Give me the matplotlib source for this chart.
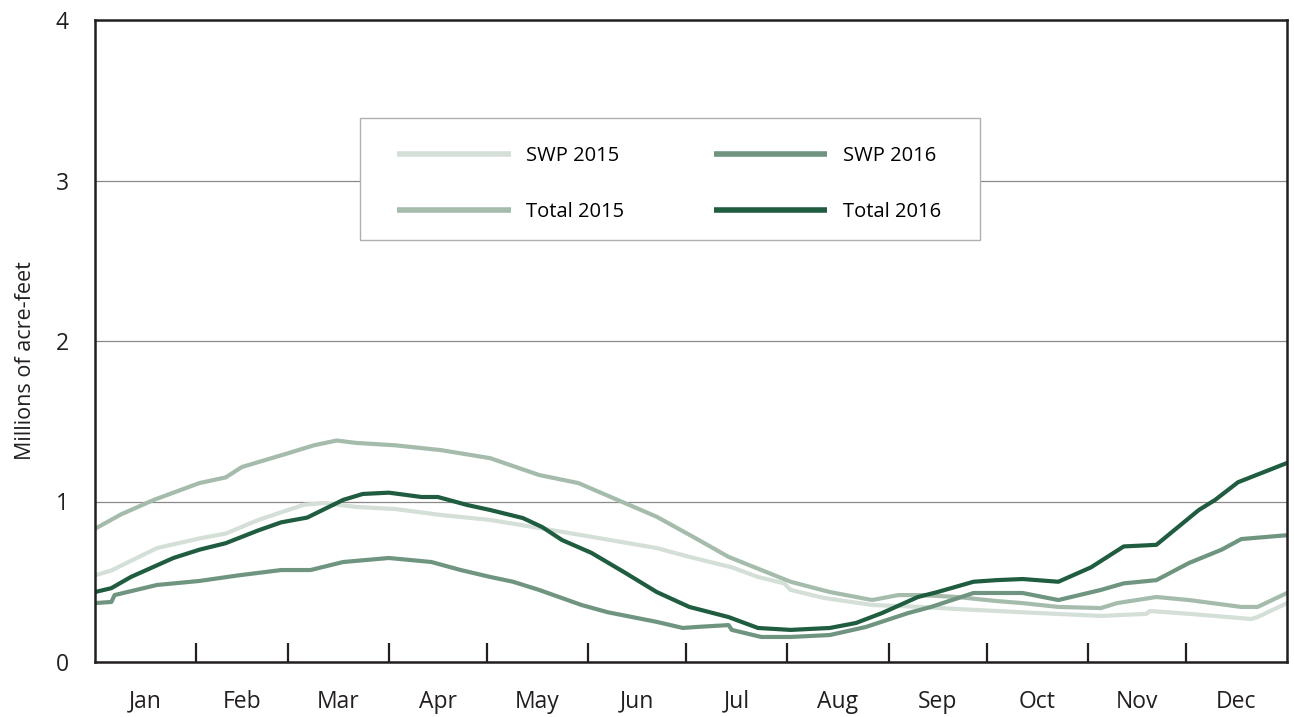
import numpy as np
import matplotlib.pyplot as plt
from matplotlib.patches import Rectangle

# day of year / millions of acre-feet
swp15_day = [0, 5, 19, 32, 40, 50, 64, 70, 80, 92, 106, 121, 136, 152, 172, 182, 195, 203, 211, 213,
             223, 238, 253, 264, 276, 289, 308, 322, 323, 335, 354, 356, 365]
swp15_val = [0.54, 0.57, 0.71, 0.77, 0.80, 0.885, 0.98, 0.99, 0.966, 0.953, 0.916, 0.885, 0.835, 0.78,
             0.71, 0.655, 0.59, 0.53, 0.49, 0.449, 0.40, 0.355, 0.343, 0.33, 0.318, 0.305, 0.287, 0.30,
             0.318, 0.30, 0.268, 0.28, 0.367]

tot15_day = [0, 8, 18, 32, 40, 45, 59, 67, 74, 80, 92, 106, 121, 136, 148, 160, 172, 184, 194, 213, 225,
             238, 246, 253, 264, 276, 284, 295, 308, 313, 325, 335, 351, 356, 365]
tot15_val = [0.83, 0.92, 1.01, 1.115, 1.15, 1.215, 1.30, 1.35, 1.38, 1.365, 1.35, 1.32, 1.27, 1.165,
             1.115, 1.01, 0.905, 0.77, 0.655, 0.50, 0.436, 0.386, 0.417, 0.417, 0.405, 0.38, 0.367,
             0.343, 0.336, 0.367, 0.405, 0.386, 0.343, 0.343, 0.43]

swp16_day = [0, 5, 6, 19, 32, 44, 57, 66, 76, 90, 103, 112, 121, 128, 136, 149, 157, 172, 180, 184,
             194, 195, 204, 213, 225, 236, 249, 256, 269, 276, 284, 295, 308, 315, 325, 335, 345, 351, 365]
swp16_val = [0.367, 0.374, 0.417, 0.48, 0.505, 0.54, 0.573, 0.573, 0.623, 0.648, 0.623, 0.573, 0.53,
             0.50, 0.449, 0.355, 0.31, 0.25, 0.212, 0.218, 0.23, 0.20, 0.156, 0.156, 0.168, 0.218,
             0.305, 0.343, 0.43, 0.43, 0.43, 0.386, 0.449, 0.49, 0.51, 0.617, 0.70, 0.766, 0.79]

tot16_day = [0, 5, 11, 24, 32, 40, 50, 57, 65, 76, 82, 90, 100, 105, 114, 121, 131, 137, 143, 152,
             162, 172, 182, 194, 203, 213, 225, 233, 241, 252, 258, 269, 276, 284, 295, 305, 315, 325,
             338, 343, 350, 365]
tot16_val = [0.436, 0.46, 0.53, 0.648, 0.70, 0.74, 0.82, 0.87, 0.90, 1.01, 1.047, 1.055, 1.028, 1.028,
             0.978, 0.947, 0.897, 0.84, 0.76, 0.68, 0.56, 0.436, 0.343, 0.28, 0.212, 0.20, 0.212,
             0.243, 0.305, 0.405, 0.436, 0.50, 0.51, 0.517, 0.50, 0.59, 0.72, 0.73, 0.947, 1.01,
             1.12, 1.24]

months = ['Jan', 'Feb', 'Mar', 'Apr', 'May', 'Jun', 'Jul', 'Aug', 'Sep', 'Oct', 'Nov', 'Dec']
month_len = [31, 28, 31, 30, 31, 30, 31, 31, 30, 31, 30, 31]

plt.rcParams['font.family'] = ['Open Sans', 'DejaVu Sans']
ink = '#231f20'

fig = plt.figure(figsize=(12.94, 7.17), dpi=100)
ax = fig.add_axes([95 / 1294, 55 / 717, 1192 / 1294, 642 / 717])

ax.plot(swp15_day, swp15_val, color='#d4dfd8', lw=3, label='SWP 2015', solid_capstyle='round')
ax.plot(tot15_day, tot15_val, color='#a5bcac', lw=3, label='Total 2015', solid_capstyle='round')
ax.plot(swp16_day, swp16_val, color='#6f9580', lw=3, label='SWP 2016', solid_capstyle='round')
ax.plot(tot16_day, tot16_val, color='#1f5c40', lw=3, label='Total 2016', solid_capstyle='round')

ax.set_xlim(0, 365)
ax.set_ylim(0, 4)

bounds = np.cumsum(month_len)
mids = bounds - np.array(month_len) / 2
ax.set_xticks(bounds[:-1])
ax.set_xticklabels([])
ax.set_xticks(mids, minor=True)
ax.set_xticklabels(months, minor=True, fontsize=16.5, color=ink)
ax.tick_params(axis='x', which='major', direction='in', length=14, width=1.6, color=ink)
ax.tick_params(axis='x', which='minor', length=0, pad=20)

ax.set_yticks([0, 1, 2, 3, 4])
ax.tick_params(axis='y', length=0, pad=19, labelsize=16.5, labelcolor=ink)
ax.yaxis.grid(True, color='#8a8a8a', lw=0.9)
ax.set_axisbelow(True)
ax.set_ylabel('Millions of acre-feet', fontsize=15.5, color=ink)
ax.yaxis.set_label_coords(-0.0495, 0.469)

for s in ax.spines.values():
    s.set_color(ink)
    s.set_linewidth(1.8)

# legend frame drawn separately so its size matches the original box
frame = Rectangle((265 / 1192, (662 - 240) / 642), 620 / 1192, 122 / 642, transform=ax.transAxes,
                  facecolor='white', edgecolor='#b0b0b0', lw=1.0, zorder=4)
ax.add_patch(frame)
leg = ax.legend(ncol=2, loc='upper left', bbox_to_anchor=(302 / 1192, (662 - 146) / 642),
                fontsize=14.5, handlelength=5.65, handletextpad=0.75, columnspacing=4.45,
                labelspacing=1.8, borderpad=0, borderaxespad=0, frameon=False)
leg.set_zorder(5)
for line in leg.get_lines():
    line.set_linewidth(4)
    line.set_solid_capstyle('butt')

fig.savefig('out.png', dpi=100)
